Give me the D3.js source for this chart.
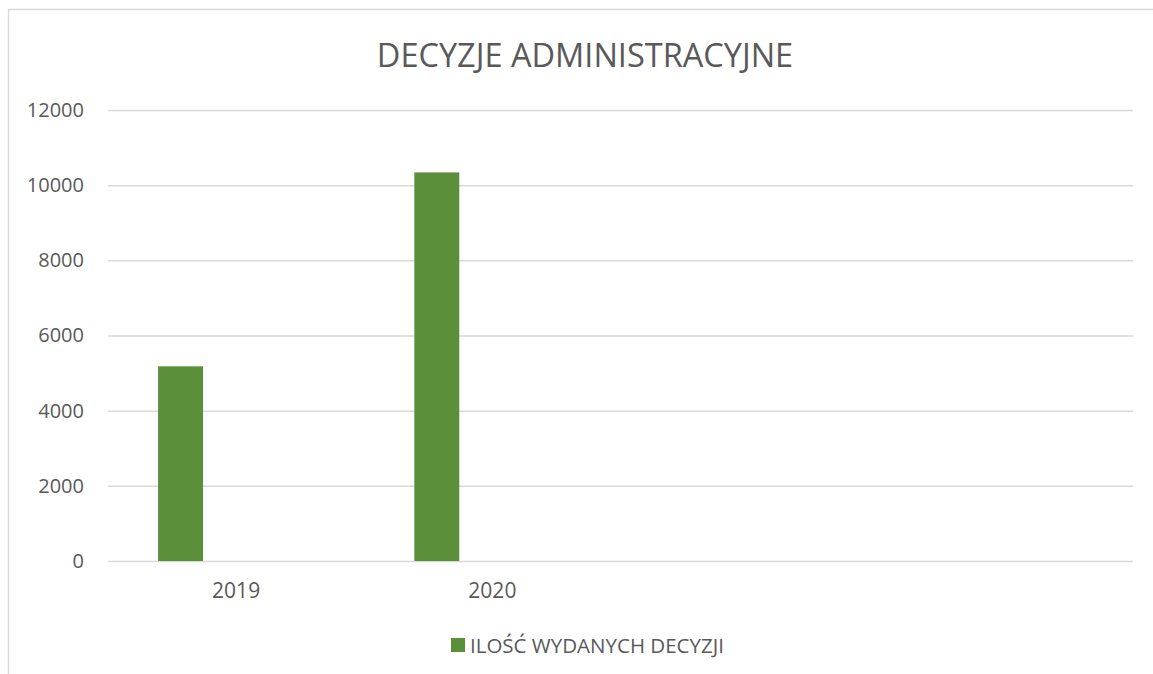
<!DOCTYPE html>
<html>
<head>
<meta charset="utf-8">
<script src="https://cdn.jsdelivr.net/npm/d3@7"></script>
<style>
  body { margin: 0; background: #fff; }
  text { font-family: "Open Sans", sans-serif; fill: #595959; }
</style>
</head>
<body>
<div id="chart"></div>
<script>
var title = "DECYZJE ADMINISTRACYJNE";
var seriesName = "ILOŚĆ WYDANYCH DECYZJI";
// four category slots, the last two are empty in the original sheet
var categories = ["2019", "2020", "", " "];
var values = [5180, 10340, null, null];
var yTicks = [0, 2000, 4000, 6000, 8000, 10000, 12000];

var W = 1153, H = 674;
var margin = {left: 108, right: 20, top: 110, bottom: 113};
var width = W - margin.left - margin.right;
var height = H - margin.top - margin.bottom;
var barColor = "#5b8f3a";
var gridColor = "#d9d9d9";

var svg = d3.select("#chart").append("svg")
    .attr("width", W)
    .attr("height", H);

// chart area border (only top and left show in the picture)
svg.append("path")
    .attr("d", "M8.5,674 V9.5 H1153")
    .style("fill", "none")
    .style("stroke", gridColor)
    .style("stroke-width", 1.5);

var g = svg.append("g")
    .attr("transform", "translate(" + margin.left + "," + margin.top + ")");

var x0 = d3.scaleBand().domain(categories).range([0, width]);
var x1 = d3.scaleBand().domain([seriesName]).range([0, x0.bandwidth()])
    .paddingInner(0).paddingOuter(2.35).align(0.237);
var y = d3.scaleLinear().domain([0, 12000]).range([height, 0]);

// gridlines
g.append("g")
    .attr("class", "grid")
    .call(d3.axisLeft(y).tickValues(yTicks).tickSize(-width).tickFormat(""))
    .call(function(s) { s.select(".domain").remove(); })
    .selectAll("line")
    .style("stroke", gridColor)
    .style("stroke-width", 1.5);

// y axis labels
g.append("g")
    .attr("transform", "translate(-24,0)")
    .call(d3.axisLeft(y).tickValues(yTicks).tickSize(0).tickPadding(0).tickFormat(d3.format("d")))
    .call(function(s) { s.select(".domain").remove(); })
    .selectAll("text")
    .style("font-size", "20px")
    .style("fill", "#595959");

// x axis labels
g.append("g")
    .attr("transform", "translate(0," + height + ")")
    .call(d3.axisBottom(x0).tickSize(0).tickPadding(22))
    .call(function(s) { s.select(".domain").remove(); })
    .selectAll("text")
    .style("font-size", "21px")
    .style("fill", "#595959");

// bars
g.selectAll(".bar")
    .data(categories.map(function(c, i) { return {cat: c, value: values[i]}; })
          .filter(function(d) { return d.value != null; }))
  .enter().append("rect")
    .attr("class", "bar")
    .attr("x", function(d) { return x0(d.cat) + x1(seriesName); })
    .attr("width", x1.bandwidth())
    .attr("y", function(d) { return y(d.value); })
    .attr("height", function(d) { return height - y(d.value); })
    .style("fill", barColor);

// title
svg.append("text")
    .attr("x", 585)
    .attr("y", 67)
    .attr("text-anchor", "middle")
    .style("font-size", "32.5px")
    .text(title);

// legend
var legend = svg.append("g").attr("transform", "translate(451,638)");
legend.append("rect")
    .attr("width", 14)
    .attr("height", 14)
    .style("fill", barColor);
legend.append("text")
    .attr("x", 19)
    .attr("y", 14.5)
    .style("font-size", "20.5px")
    .text(seriesName);
</script>
</body>
</html>
